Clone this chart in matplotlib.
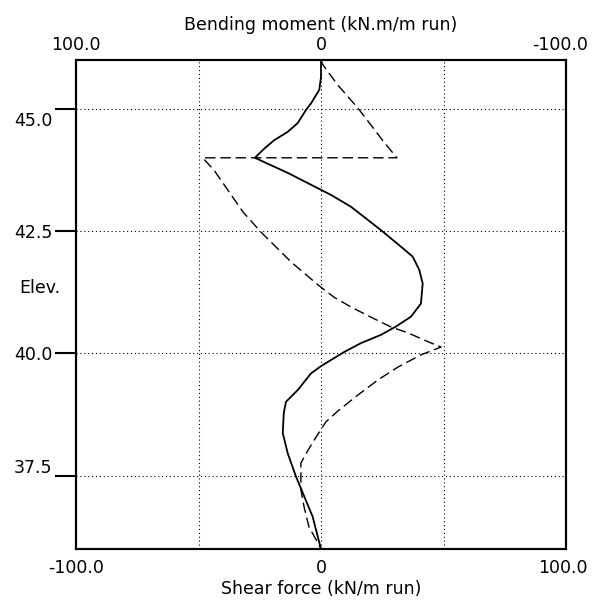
import numpy as np
import matplotlib
matplotlib.use('Agg')
import matplotlib.pyplot as plt
import matplotlib.transforms as mtransforms

## bending moment along the wall (kN.m/m run), top axis is reversed
elev_m = [46.0, 45.65, 45.39, 45.11, 44.98, 44.71, 44.53, 44.36, 44.19, 44.0,
          43.69, 43.24, 43.0, 42.52, 42.18, 41.98, 41.71, 41.43, 41.02, 40.75,
          40.55, 40.38, 40.21, 40.03, 39.74, 39.59, 39.25, 39.01, 38.78, 38.37,
          37.96, 37.48, 37.07, 36.66, 36.25, 36.0]
moment = [0, 0, 0.7, 4.1, 6.1, 9.5, 13.6, 19.1, 23.1, 27.0,
          13.5, -4.1, -12.2, -24.5, -32.7, -37.4, -40.1, -41.5, -40.8, -36.7,
          -30.6, -24.5, -16.3, -9.5, 0, 4.1, 9.5, 14.3, 15.2, 15.6,
          13.6, 10.2, 6.8, 3.4, 1.3, 0]

## shear force (kN/m run), jump at the anchor level
elev_v = [46.0, 45.9, 45.49, 45.02, 44.67, 44.32, 44.0, 44.0, 43.75, 42.89,
          42.48, 41.87, 41.40, 41.15, 40.95, 40.74, 40.54, 40.42, 40.23, 40.13,
          39.97, 39.72, 39.46, 39.15, 38.84, 38.60, 38.29, 38.02, 37.76, 37.21,
          36.86, 36.45, 36.12, 36.0]
shear = [0, 0.8, 6.8, 15.0, 20.4, 25.7, 31.0, -48.3, -43.7, -31.8,
         -24.5, -12.2, -1.2, 5.3, 12.2, 20.4, 28.6, 35.5, 44.1, 49.0,
         40.8, 31.4, 23.3, 15.1, 7.3, 2.0, -2.0, -5.3, -8.2, -8.2,
         -6.9, -4.9, -1.2, 0]

shear_ticks = [-100, -50, 0, 50, 100]
shear_labels = ['-100.0', '', '0', '', '100.0']
moment_ticks = [100, 0, -100]
moment_labels = ['100.0', '0', '-100.0']
elev_ticks = [37.5, 40.0, 42.5, 45.0]
elev_labels = ['37.5', '40.0', '42.5', '45.0']

plt.rcParams['font.family'] = 'DejaVu Sans'
fs = 12.5

fig = plt.figure(figsize=(5.92, 6.08), dpi=100)
ax = fig.add_axes([76 / 592, 59 / 608, 490 / 592, 489 / 608])

ax.plot(shear, elev_v, color='k', lw=1.0, linestyle=(0, (7.5, 3.5)))
ax.set_xlim(-100, 100)
ax.set_ylim(36, 46)

ax.set_xticks(shear_ticks)
ax.set_xticklabels(shear_labels, fontsize=fs)
ax.set_yticks(elev_ticks)
ax.set_yticklabels(elev_labels, fontsize=fs)
ax.tick_params(axis='x', length=0, pad=7)
ax.tick_params(axis='y', length=15, width=1.5, pad=2, direction='out')
ax.grid(True, color='k', lw=0.8, linestyle=(0, (1, 2.5)))
ax.set_xlabel('Shear force (kN/m run)', fontsize=fs, labelpad=2)


def shift(label, dx, dy):
    # offset in points
    label.set_transform(label.get_transform() +
                        mtransforms.ScaledTranslation(dx / 72, dy / 72, fig.dpi_scale_trans))


## nudge end labels of the elevation axis off the corners
ylabs = ax.get_yticklabels()
shift(ylabs[0], 0, 7)
shift(ylabs[-1], 0, -7)

ax.text(-0.073, 0.534, 'Elev.', transform=ax.transAxes, fontsize=fs,
        ha='center', va='center')

ax2 = ax.twiny()
ax2.plot(moment, elev_m, color='k', lw=1.3)
ax2.set_xlim(100, -100)
ax2.set_xticks(moment_ticks)
ax2.set_xticklabels(moment_labels, fontsize=fs)
ax2.tick_params(axis='x', length=0, pad=4)
ax2.set_xlabel('Bending moment (kN.m/m run)', fontsize=fs, labelpad=5)

## keep the right-hand labels inside the figure
shift(ax2.get_xticklabels()[-1], -4, 0)
shift(ax.get_xticklabels()[-1], -2, 0)

for a in (ax, ax2):
    for s in a.spines.values():
        s.set_linewidth(1.5)

fig.savefig('out.png', dpi=100)
